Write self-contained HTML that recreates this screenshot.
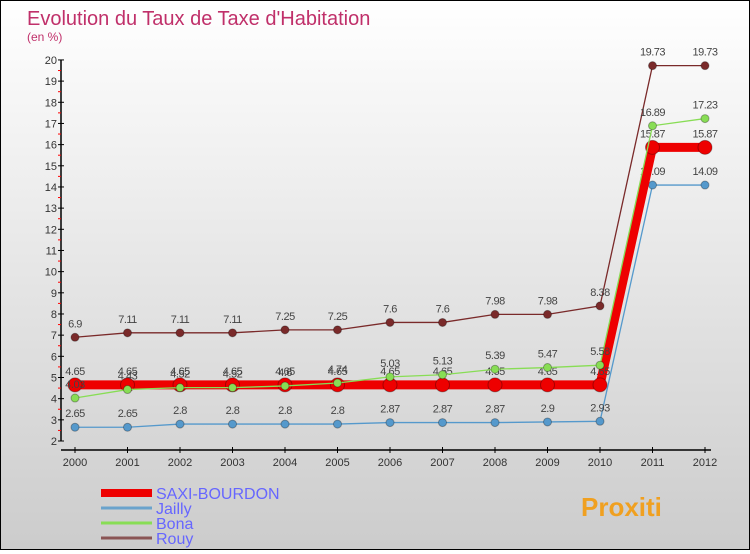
<!DOCTYPE html>
<html><head><meta charset="utf-8"><style>
html,body{margin:0;padding:0}
body{width:750px;height:550px;overflow:hidden;font-family:"Liberation Sans",sans-serif}
#wrap{position:relative;width:748px;height:548px;border:1px solid #000;background:linear-gradient(#fff,#ccc)}
</style></head><body>
<div id="wrap">
<svg id="chart" width="748" height="548">
<text x="26" y="24" font-size="20" fill="#c0306a">Evolution du Taux de Taxe d'Habitation</text>
<text x="26" y="40" font-size="12" fill="#c0306a">(en %)</text>
</svg>
</div>
<script>
const years=["2000","2001","2002","2003","2004","2005","2006","2007","2008","2009","2010","2011","2012"];
const yTicks=[2,3,4,5,6,7,8,9,10,11,12,13,14,15,16,17,18,19,20];
const saxi=[4.65,4.65,4.65,4.65,4.65,4.65,4.65,4.65,4.65,4.65,4.65,15.87,15.87];
const jailly=[2.65,2.65,2.8,2.8,2.8,2.8,2.87,2.87,2.87,2.9,2.93,14.09,14.09];
const bona=[4.03,4.43,4.52,4.52,4.6,4.74,5.03,5.13,5.39,5.47,5.58,16.89,17.23];
const rouy=[6.9,7.11,7.11,7.11,7.25,7.25,7.6,7.6,7.98,7.98,8.38,19.73,19.73];
const svg=document.getElementById('chart');const NS="http://www.w3.org/2000/svg";
function X(i){return 74+i*52.5;}
function Y(v){return 440-(v-2)*21.17;}
function mk(t,a,p){const e=document.createElementNS(NS,t);for(const k in a)e.setAttribute(k,a[k]);(p||svg).appendChild(e);return e;}
// axes
let ax=mk('line',{x1:60,y1:Y(20),x2:60,y2:Y(2),stroke:'#000','stroke-width':1.5});


let bx=mk('line',{x1:60,y1:449,x2:710,y2:449,stroke:'#000','stroke-width':1.5});


yTicks.forEach(v=>{mk('line',{x1:57,y1:Y(v),x2:63,y2:Y(v),stroke:'#000'});
 if(v<20)mk('line',{x1:57,y1:Y(v+0.5),x2:60,y2:Y(v+0.5),stroke:'#f00'});
 const t=mk('text',{x:56,y:Y(v)+4,'font-size':11,fill:'#333','text-anchor':'end'});t.textContent=v;
 
 });
years.forEach((y,i)=>{mk('line',{x1:X(i),y1:446,x2:X(i),y2:452,stroke:'#000'});
 const t=mk('text',{x:X(i),y:465,'font-size':11,fill:'#333','text-anchor':'middle'});t.textContent=y;
 
 });
function series(vals,color,w,r,name){
 const g=mk('g',{});
 
 
 mk('polyline',{points:vals.map((v,i)=>X(i)+','+Y(v)).join(' '),fill:'none',stroke:color,'stroke-width':w},g);
 vals.forEach((v,i)=>{const c=mk('circle',{cx:X(i),cy:Y(v),r:r,fill:color,stroke:'rgba(0,0,0,0.3)'},g);
  
  
  const t=mk('text',{x:X(i),y:Y(v)-10,'font-size':11,fill:'#444','text-anchor':'middle','letter-spacing':'-0.5'},g);t.textContent=v;});
}
series(rouy,'#7a2a2a',1.3,4,'series-rouy');
series(jailly,'#5599cc',1.3,4,'series-jailly');
series(saxi,'#ee0000',9,7,'series-saxi-bourdon');
series(bona,'#88dd55',1.3,4,'series-bona');
// legend
const leg=[['SAXI-BOURDON','#ee0000',8],['Jailly','#6aa3cc',3],['Bona','#88dd55',3],['Rouy','#8a5555',3]];
leg.forEach((l,i)=>{const y=492+i*15;const g=mk('g',{});
 
 
 mk('line',{x1:100,y1:y,x2:151,y2:y,stroke:l[1],'stroke-width':l[2]},g);
 const t=mk('text',{x:155,y:y+6,'font-size':16,fill:'#6666ff'},g);t.textContent=l[0];});
const p=mk('text',{x:580,y:515,'font-size':26,'font-weight':'bold',fill:'#f0a020'});p.textContent='Proxiti';


</script>
</body></html>
